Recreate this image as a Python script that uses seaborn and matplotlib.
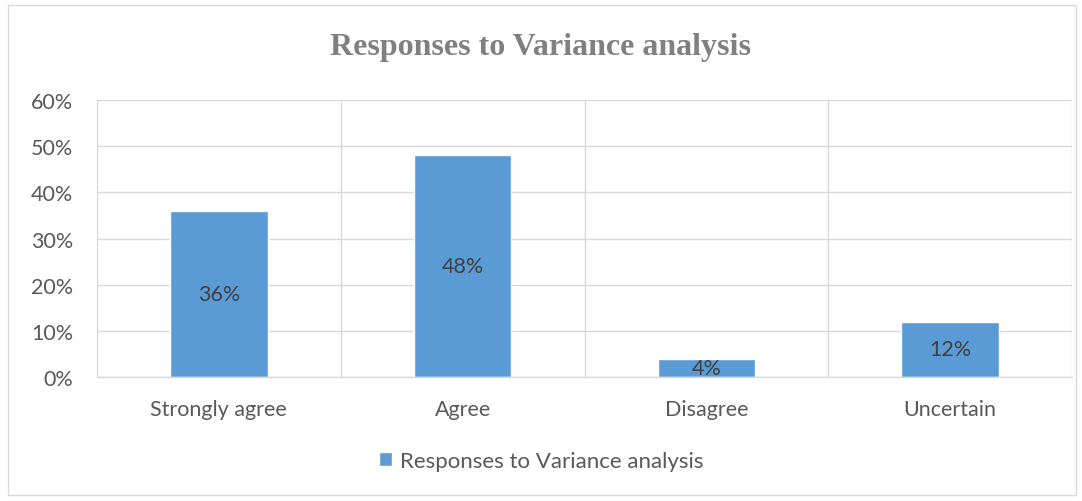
import matplotlib
matplotlib.use("Agg")
import matplotlib.pyplot as plt
import seaborn as sns
import pandas as pd
from matplotlib.patches import Rectangle

categories = ["Strongly agree", "Agree", "Disagree", "Uncertain"]
values = [36, 48, 4, 12]
series_name = "Responses to Variance analysis"

sns.set_theme(style="white")
plt.rcParams['font.family'] = ['Lato', 'DejaVu Sans']

df = pd.DataFrame({"category": categories, "value": values})

fig = plt.figure(figsize=(10.82, 5.02), dpi=100)
ax = fig.add_axes([97 / 1082, 1 - 378 / 502, (1072 - 97) / 1082, (378 - 101) / 502])

sns.barplot(data=df, x="category", y="value", color="#5B9BD5", width=0.4,
            saturation=1, ax=ax, label=series_name)

# data labels centred in bars
for p, v in zip(ax.patches, values):
    ax.text(p.get_x() + p.get_width() / 2, p.get_height() / 2, f"{v}%",
            ha="center", va="center", fontsize=15.5, color="#404040")

ax.set_ylim(0, 60)
ax.set_xlim(-0.5, len(categories) - 0.5)
ax.set_yticks(range(0, 61, 10))
ax.set_yticklabels([f"{t}%" for t in range(0, 61, 10)])
ax.set_xlabel("")
ax.set_ylabel("")
ax.tick_params(axis="both", length=0, labelsize=15.5, colors="#595959")
ax.tick_params(axis="y", pad=17)
ax.tick_params(axis="x", pad=16)

ax.set_xticks([i - 0.5 for i in range(len(categories) + 1)], minor=True)
ax.grid(True, axis="y", color="#D9D9D9", lw=1)
ax.grid(True, axis="x", which="minor", color="#D9D9D9", lw=1)
ax.grid(False, axis="x", which="major")
ax.set_axisbelow(True)
for s in ["top", "right", "left"]:
    ax.spines[s].set_visible(False)
ax.spines["bottom"].set_color("#D9D9D9")
ax.spines["bottom"].set_linewidth(1)

fig.text(0.5, 1 - 48 / 502, "Responses to Variance analysis", ha="center", va="center",
         fontsize=23, fontweight="bold", color="#808080", family="Liberation Serif")

leg = ax.legend(loc="center", bbox_to_anchor=(0.5, 1 - 462 / 502), bbox_transform=fig.transFigure,
                frameon=False, fontsize=16, handlelength=0.6, handleheight=0.6, handletextpad=0.35)
for t in leg.get_texts():
    t.set_color("#595959")

fig.patches.append(Rectangle((8 / 1082, 6 / 502), 1068 / 1082, 490 / 502, transform=fig.transFigure,
                             fill=False, edgecolor="#D9D9D9", lw=1))

fig.savefig("out.png", dpi=100, facecolor="white")
